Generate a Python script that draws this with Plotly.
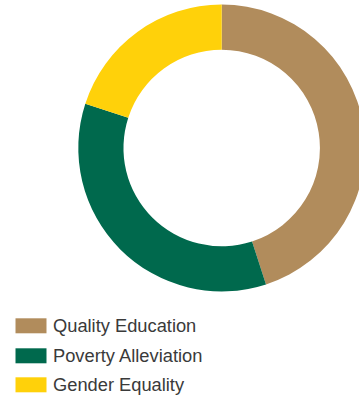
import plotly.graph_objects as go

labels = ["Quality Education", "Poverty Alleviation", "Gender Equality"]
values = [45, 35, 20]
colors = ["#B18C5C", "#00694D", "#FFD10A"]

W, H = 366, 396

# pie geometry (pixels)
cx, cy, r = 221.7, 148.0, 143.4

fig = go.Figure(go.Pie(
    labels=labels,
    values=values,
    hole=0.685,
    sort=False,
    direction="clockwise",
    rotation=0,
    textinfo="none",
    hoverinfo="label+percent",
    marker=dict(colors=colors, line=dict(width=0)),
    showlegend=False,
    domain=dict(x=[(cx - r) / W, (cx + r) / W], y=[(H - cy - r) / H, (H - cy + r) / H]),
))

# custom legend (wide swatches)
rows_y = [325.8, 355.8, 384.8]
shapes, annotations = [], []
for lab, col, yc in zip(labels, colors, rows_y):
    shapes.append(dict(type="rect", xref="paper", yref="paper",
                       x0=15.5 / W, x1=46.5 / W, y0=(H - yc - 7.5) / H, y1=(H - yc + 7.5) / H,
                       fillcolor=col, line=dict(width=0)))
    annotations.append(dict(text=lab, xref="paper", yref="paper", x=50.5 / W, y=(H - yc) / H,
                            xanchor="left", yanchor="middle", showarrow=False,
                            font=dict(family="Liberation Sans, Arial, sans-serif", size=18.3, color="#3a3a3a")))

fig.update_layout(
    width=W, height=H,
    margin=dict(l=0, r=0, t=0, b=0),
    paper_bgcolor="white", plot_bgcolor="white",
    shapes=shapes, annotations=annotations,
)

fig.write_html("out.html", config={"displayModeBar": False},
               post_script="document.body.style.margin='0';document.body.style.overflow='hidden';document.documentElement.style.overflow='hidden';")
